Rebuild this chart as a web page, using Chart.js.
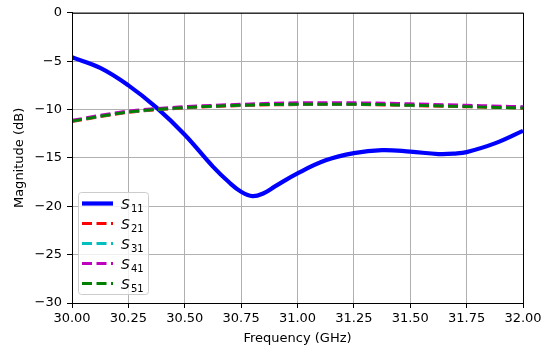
<!DOCTYPE html>
<html>
<head>
<meta charset="utf-8">
<script src="https://cdn.jsdelivr.net/npm/chart.js@4/dist/chart.umd.min.js"></script>
<style>
  body { margin: 0; background: #fff; }
  canvas { display: block; }
</style>
</head>
<body>
<canvas id="sChart" width="550" height="352"></canvas>
<script>
// S-parameter magnitudes

const freqS11 = [30.0, 30.125, 30.25, 30.375, 30.5, 30.625, 30.7, 30.75, 30.8, 30.85, 30.9, 31.0, 31.125, 31.25, 31.375, 31.5, 31.625, 31.7, 31.75, 31.875, 32.0];
const s11 = [-4.6, -5.7, -7.5, -9.8, -12.6, -15.9, -17.6, -18.5, -18.95, -18.65, -17.95, -16.6, -15.25, -14.5, -14.2, -14.35, -14.6, -14.55, -14.4, -13.5, -12.2];

const freqSx1 = [30.0, 30.25, 30.5, 30.75, 31.0, 31.25, 31.5, 31.75, 32.0];
const s21 = [-11.25, -10.3, -9.85, -9.6, -9.5, -9.5, -9.6, -9.72, -9.85];
const s31 = [-11.2, -10.25, -9.8, -9.55, -9.45, -9.45, -9.55, -9.65, -9.75];
const s41 = [-11.1, -10.15, -9.7, -9.45, -9.3, -9.3, -9.4, -9.55, -9.7];
const s51 = [-11.2, -10.25, -9.8, -9.55, -9.45, -9.45, -9.55, -9.7, -9.85];

const seriesNames = ['11', '21', '31', '41', '51'];
const seriesColors = ['#0000ff', '#ff0000', '#00bfbf', '#bf00bf', '#008000'];

const xTicks = [30.0, 30.25, 30.5, 30.75, 31.0, 31.25, 31.5, 31.75, 32.0];
const yTicks = [-30, -25, -20, -15, -10, -5, 0];

function pts(xs, ys) {
    return xs.map((x, i) => ({ x: x, y: ys[i] }));
}

const minus = v => String(v).replace('-', '\u2212');

Chart.defaults.font.family = 'DejaVu Sans';
Chart.defaults.color = '#000';

// top/right spines and the legend box inside the plot
const framePlugin = {
    id: 'frame',
    afterDatasetsDraw(chart) {
        const ctx = chart.ctx;
        const a = chart.chartArea;
        ctx.save();
        ctx.strokeStyle = '#000';
        ctx.lineWidth = 1;
        ctx.strokeRect(a.left + 0.5, a.top + 0.5, a.right - a.left, a.bottom - a.top);

        // legend
        const bx = 78, by = 192, bw = 70, bh = 102;
        ctx.fillStyle = 'rgba(255,255,255,0.8)';
        ctx.strokeStyle = '#cccccc';
        ctx.beginPath();
        ctx.roundRect(bx + 0.5, by + 0.5, bw, bh, 3);
        ctx.fill();
        ctx.stroke();

        chart.data.datasets.forEach((ds, i) => {
            const y = 203.5 + i * 20;
            ctx.strokeStyle = ds.borderColor;
            ctx.lineWidth = ds.borderWidth;
            ctx.setLineDash(ds.borderDash || []);
            ctx.beginPath();
            ctx.moveTo(82, y);
            ctx.lineTo(113, y);
            ctx.stroke();
            ctx.setLineDash([]);

            ctx.fillStyle = '#000';
            ctx.textBaseline = 'alphabetic';
            ctx.textAlign = 'left';
            ctx.font = 'italic 14px "DejaVu Sans"';
            ctx.fillText('S', 121, y + 5);
            ctx.font = '10px "DejaVu Sans"';
            ctx.fillText(seriesNames[i], 131, y + 8);
        });
        ctx.restore();
    }
};

const ctx = document.getElementById('sChart').getContext('2d');

new Chart(ctx, {
    type: 'line',
    data: {
        datasets: [
            { label: 'S11', data: pts(freqS11, s11), borderColor: seriesColors[0], borderWidth: 4.2, cubicInterpolationMode: 'default', tension: 0.4, order: 5 },
            { label: 'S21', data: pts(freqSx1, s21), borderColor: seriesColors[1], borderWidth: 2.8, borderDash: [10, 4.5], order: 4 },
            { label: 'S31', data: pts(freqSx1, s31), borderColor: seriesColors[2], borderWidth: 2.8, borderDash: [10, 4.5], order: 3 },
            { label: 'S41', data: pts(freqSx1, s41), borderColor: seriesColors[3], borderWidth: 2.8, borderDash: [10, 4.5], order: 2 },
            { label: 'S51', data: pts(freqSx1, s51), borderColor: seriesColors[4], borderWidth: 2.8, borderDash: [10, 4.5], order: 1 }
        ]
    },
    options: {
        responsive: false,
        animation: false,
        layout: { padding: { left: 0, right: 27, top: 10, bottom: 0 } },
        elements: {
            point: { radius: 0 },
            line: { cubicInterpolationMode: 'monotone', fill: false }
        },
        plugins: {
            legend: { display: false },
            tooltip: { enabled: false }
        },
        scales: {
            x: {
                type: 'linear',
                min: 30,
                max: 32,
                afterBuildTicks: s => { s.ticks = xTicks.map(v => ({ value: v })); },
                afterFit: s => { s.height = 49; },
                ticks: {
                    font: { size: 13 },
                    padding: 3,
                    maxRotation: 0,
                    callback: v => v.toFixed(2)
                },
                grid: { color: '#b0b0b0', lineWidth: 1, tickColor: '#000', tickLength: 5 },
                border: { color: '#000', width: 1 },
                title: {
                    display: true,
                    text: 'Frequency (GHz)',
                    font: { size: 13 },
                    padding: { top: 0, bottom: 6 }
                }
            },
            y: {
                min: -30,
                max: 0,
                afterBuildTicks: s => { s.ticks = yTicks.map(v => ({ value: v })); },
                afterFit: s => { s.width = 72; },
                ticks: {
                    font: { size: 13 },
                    padding: 5,
                    callback: v => minus(v)
                },
                grid: { color: '#b0b0b0', lineWidth: 1, tickColor: '#000', tickLength: 5 },
                border: { color: '#000', width: 1 },
                title: {
                    display: true,
                    text: 'Magnitude (dB)',
                    font: { size: 13 },
                    padding: { top: 12, bottom: 0 }
                }
            }
        }
    },
    plugins: [framePlugin]
});
</script>
</body>
</html>
